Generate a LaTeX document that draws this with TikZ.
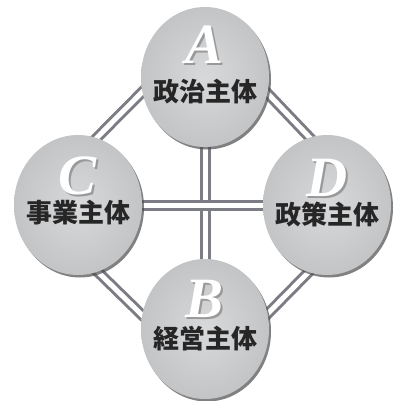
\documentclass[tikz,border=0pt]{standalone}
\usepackage{fontspec}
\setmainfont{Liberation Serif}
\newfontfamily\cjk{Noto Sans CJK JP}
\usetikzlibrary{shapes.geometric,shadows,calc}
\definecolor{linegray}{HTML}{7C7D84}
\definecolor{discin}{HTML}{D8D9DB}
\definecolor{discout}{HTML}{C3C4C6}
\newcommand{\shadowletter}[1]{\makebox[0pt][l]{\hspace{2pt}\raisebox{-2pt}{\color{black!40}#1}}#1}
\tikzset{
  dline/.style={draw=linegray, line width=3pt, double=white, double distance=5pt},
  disc/.style={ellipse, minimum width=128pt, minimum height=140pt, inner sep=0pt,
    shading=radial, inner color=discin, outer color=discout,
    drop shadow={shadow xshift=2pt, shadow yshift=-2.5pt, fill=black!70, opacity=0.7}},
  letter/.style={font=\fontsize{57}{57}\selectfont\bfseries\itshape, text=white, inner sep=0pt},
  label/.style={font=\cjk\bfseries\fontsize{26}{26}\selectfont, text=black!85, inner sep=0pt}
}
\begin{document}
\begin{tikzpicture}[x=1pt,y=-1pt]
\useasboundingbox (0,0) rectangle (393,401);
\coordinate (a) at (205,77);
\coordinate (b) at (205,329);
\coordinate (c) at (78,205);
\coordinate (d) at (327,205);
% double connectors
\draw[dline] (a) -- (b);
\draw[dline] (c) -- (d);
\draw[dline] ($(a)!34pt!90:(d)$) -- ($(d)!34pt!-90:(a)$);
\draw[dline] ($(d)!34pt!90:(b)$) -- ($(b)!34pt!-90:(d)$);
\draw[dline] ($(b)!34pt!90:(c)$) -- ($(c)!34pt!-90:(b)$);
\draw[dline] ($(c)!34pt!90:(a)$) -- ($(a)!34pt!-90:(c)$);
% discs
\node[disc] (A) at (a) {};
\node[disc] (B) at (b) {};
\node[disc] (C) at (c) {};
\node[disc] (D) at (d) {};
% letters
\node[letter] (lA) at ($(A)+(0,-31)$) {\shadowletter{A}};
\node[letter] (lB) at ($(B)+(0,-29)$) {\shadowletter{B}};
\node[letter] (lC) at ($(C)+(0,-28)$) {\shadowletter{C}};
\node[letter] (lD) at ($(D)+(0,-26)$) {\shadowletter{D}};
% labels
\node[label] (tA) at ($(A)+(0,15)$) {政治主体};
\node[label] (tB) at ($(B)+(0,10)$) {経営主体};
\node[label] (tC) at ($(C)+(0,8)$) {事業主体};
\node[label] (tD) at ($(D)+(0,10)$) {政策主体};
\end{tikzpicture}
\end{document}
